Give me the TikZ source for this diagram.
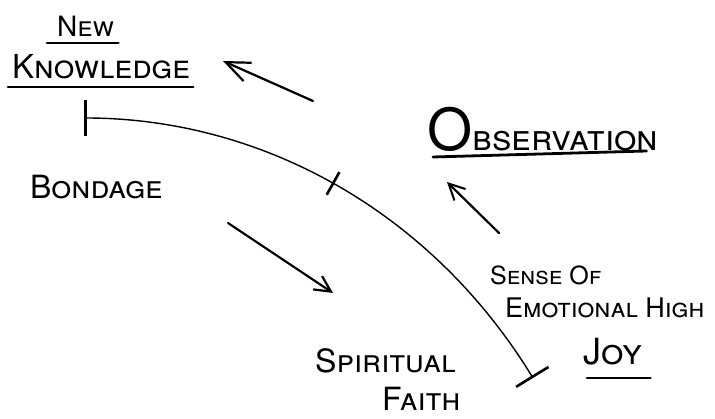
\documentclass[tikz,border=0pt]{standalone}
\usepackage{fontspec}
\setmainfont{TeX Gyre Heros}
\usetikzlibrary{arrows.meta,decorations.markings}
\tikzset{
  word/.style={anchor=base west, inner sep=0pt, font=\scshape},
  uline/.style={line width=2.8pt, line cap=round},
  flow/.style={line width=2.2pt, line cap=round},
  scaleline/.style={line width=1.4pt},
}
\newcommand{\fs}[1]{\fontsize{#1}{#1}\selectfont}

\begin{document}
\begin{tikzpicture}[x=1pt, y=-1pt]
\useasboundingbox (0,0) rectangle (715,419);

% words
\node[word] (new) at (57,37) {\fs{28}New};
\node[word] (know) at (12,79) {\fs{33}Knowledge};
\node[word] (bond) at (30,199) {\fs{32}Bondage};
\node[word] (obs) at (427,151) {{\fs{58}O}\fs{36}bservation};
\node[word] (sense) at (490,285) {\fs{25}Sense Of};
\node[word] (emo) at (505,318) {\fs{27}Emotional High};
\node[word] (joy) at (583,365) {\fs{36}Joy};
\node[word] (spirit) at (315,373) {\fs{32}Spiritual};
\node[word] (faith) at (382,411) {\fs{32}Faith};

% underlines
\draw[uline] ([xshift=-10pt,yshift=-6pt]new.base west) -- ([xshift=4pt,yshift=-6pt]new.base east);
\draw[uline] ([xshift=-4pt,yshift=-8pt]know.base west) -- ([xshift=3pt,yshift=-8pt]know.base east);
\draw[uline] ([xshift=6pt,yshift=-6pt]obs.base west) -- ([xshift=-12pt,yshift=0pt]obs.base east);
\draw[uline] ([xshift=4pt,yshift=-13pt]joy.base west) -- ([xshift=8pt,yshift=-13pt]joy.base east);

% the line from bondage to joy
\coordinate (bondend) at (84,118);
\coordinate (joyend) at (533,378);
\draw[scaleline, {Bar[width=36pt,line width=2.6pt]}-{Bar[width=38pt,line width=2.6pt]},
  postaction={decorate},
  decoration={markings, mark=at position 0.48 with {\draw[arrows=-, line width=2.6pt] (0,-13pt) -- (0,13pt);}}]
  (bondend) .. controls (260,118) and (430,210) .. (joyend);

% arrows
\coordinate (kt) at (313,101);
\coordinate (kh) at (223,61);
\draw[flow, -{Straight Barb[length=24pt,width=20pt,line width=2.2pt]}] (kt) -- (kh);
\coordinate (ot) at (499,233);
\coordinate (oh) at (447,182);
\draw[flow, -{Straight Barb[length=16pt,width=16pt,line width=2pt]}] (ot) -- (oh);
\coordinate (bt) at (228,223);
\coordinate (bh) at (333,293);
\draw[flow, -{Straight Barb[length=16pt,width=16pt,line width=2.2pt]}] (bt) -- (bh);
\end{tikzpicture}
\end{document}
